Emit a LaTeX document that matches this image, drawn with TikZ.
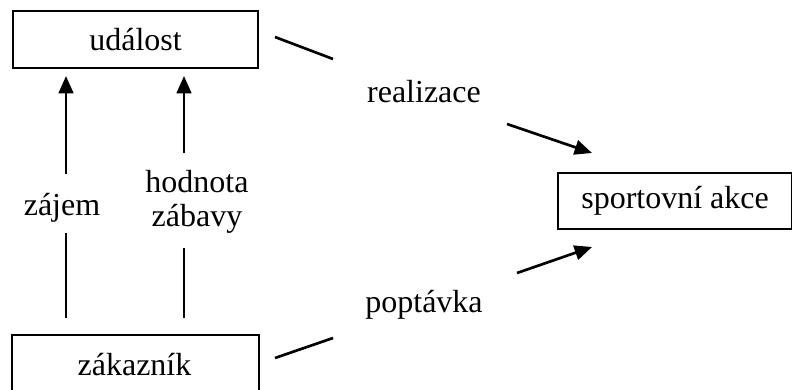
\documentclass[tikz,border=0pt]{standalone}
\usepackage{fontspec}
\setmainfont{Liberation Serif}
\usetikzlibrary{arrows.meta}
\begin{document}
\begin{tikzpicture}[x=0.75pt,y=-0.75pt,
  box/.style={draw,line width=1.6pt,inner sep=0pt,anchor=north west},
  lbl/.style={font=\fontsize{24}{28}\selectfont,inner sep=0pt,align=center},
  conn/.style={line width=2pt},
  arr/.style={line width=2pt,-{Triangle[length=13pt,width=11pt]}}]
\useasboundingbox (0,0) rectangle (792,389);
\clip (0,0) rectangle (792,389);
\node[box,minimum width=245*0.75pt,minimum height=57*0.75pt] (udalost) at (12,10) {};
\node[lbl] at (udalost.center) {událost};
\node[box,draw=none,minimum width=245*0.75pt,minimum height=70*0.75pt] (zakaznik) at (12,335) {};
\draw[line width=1.6pt] (zakaznik.south west) |- (zakaznik.north east) -- (zakaznik.south east);
\node[lbl] at (134.5,365) {zákazník};
\node[box,minimum width=234*0.75pt,minimum height=56*0.75pt] (akce) at (557,172) {};
\node[lbl] at (akce.center) {sportovní akce};
\node[lbl] (zajem) at (62,208) {zájem};
\node[lbl] (hodnota) at (197,202) {hodnota\\[-2pt]zábavy};
\node[lbl] (realizace) at (424,92) {realizace};
\node[lbl] (poptavka) at (424,305) {poptávka};
% vertical connectors
\coordinate (a1) at (66,174); \coordinate (a1t) at (66,76);
\coordinate (a2) at (66,233); \coordinate (a2b) at (66,318);
\coordinate (b1) at (184,153); \coordinate (b1t) at (184,76);
\coordinate (b2) at (184,248); \coordinate (b2b) at (184,318);
\draw[arr] (a1) -- (a1t);
\draw[conn] (a2b) -- (a2);
\draw[arr] (b1) -- (b1t);
\draw[conn] (b2b) -- (b2);
% diagonal connectors
\coordinate (r0) at (275,37); \coordinate (r1) at (333,59);
\coordinate (r2) at (507,124); \coordinate (r3) at (592,153);
\draw[conn] (r0) -- (r1);
\draw[arr] (r2) -- (r3);
\coordinate (p0) at (275,358); \coordinate (p1) at (333,338);
\coordinate (p2) at (517,273); \coordinate (p3) at (592,247);
\draw[conn] (p0) -- (p1);
\draw[arr] (p2) -- (p3);
\end{tikzpicture}
\end{document}
